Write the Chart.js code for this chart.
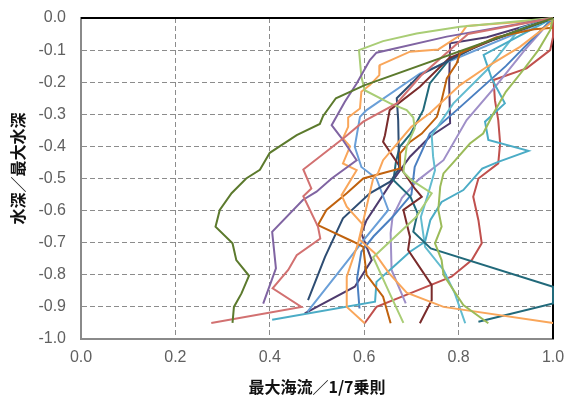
<!DOCTYPE html>
<html>
<head>
<meta charset="utf-8">
<script src="https://cdn.jsdelivr.net/npm/chart.js@4/dist/chart.umd.min.js"></script>
<style>
  html, body { margin: 0; padding: 0; background: #fff; }
  #wrap { width: 564px; height: 397px; }
</style>
</head>
<body>
<div id="wrap"><canvas id="c"></canvas></div>
<script>
// Velocity profiles: [current ratio (max / 1/7 power law), depth ratio (depth / max depth)]
const profile01 = [[1.0,0],[0.60,-0.21],[0.54,-0.25],[0.513,-0.305],[0.506,-0.33],[0.457,-0.365],[0.40,-0.42],[0.379,-0.473],[0.35,-0.50],[0.319,-0.546],[0.294,-0.598],[0.285,-0.65],[0.321,-0.702],[0.329,-0.754],[0.356,-0.803],[0.34,-0.858],[0.324,-0.90],[0.321,-0.95]];
const profile02 = [[1.0,0],[0.82,-0.05],[0.72,-0.18],[0.669,-0.266],[0.598,-0.323],[0.56,-0.37],[0.471,-0.472],[0.488,-0.531],[0.471,-0.555],[0.502,-0.65],[0.507,-0.687],[0.457,-0.739],[0.439,-0.785],[0.406,-0.842],[0.467,-0.90],[0.276,-0.95]];
const profile03 = [[1.0,0],[0.775,-0.058],[0.626,-0.108],[0.612,-0.131],[0.584,-0.204],[0.559,-0.261],[0.531,-0.334],[0.55,-0.37],[0.584,-0.443],[0.531,-0.50],[0.499,-0.541],[0.47,-0.567],[0.405,-0.666],[0.413,-0.78],[0.386,-0.89]];
const profile04 = [[1.0,0],[0.803,-0.027],[0.711,-0.048],[0.64,-0.072],[0.589,-0.10],[0.594,-0.183],[0.601,-0.225],[0.655,-0.266],[0.69,-0.287],[0.704,-0.31],[0.707,-0.344],[0.69,-0.40],[0.683,-0.48],[0.70,-0.505],[0.743,-0.546],[0.71,-0.62],[0.619,-0.745],[0.654,-0.858],[0.683,-0.95]];
const profile05 = [[1.0,0],[0.994,-0.038],[0.969,-0.10],[0.937,-0.162],[0.90,-0.23],[0.874,-0.297],[0.852,-0.36],[0.824,-0.391],[0.789,-0.45],[0.768,-0.484],[0.761,-0.526],[0.757,-0.598],[0.764,-0.65],[0.75,-0.702],[0.764,-0.754],[0.768,-0.80],[0.81,-0.894],[0.863,-0.951]];
const profile06 = [[1.0,-0.005],[0.817,-0.025],[0.803,-0.054],[0.757,-0.098],[0.697,-0.105],[0.633,-0.147],[0.632,-0.178],[0.612,-0.209],[0.594,-0.23],[0.591,-0.282],[0.566,-0.31],[0.566,-0.339],[0.555,-0.375],[0.57,-0.40],[0.555,-0.453],[0.584,-0.474],[0.552,-0.552],[0.563,-0.588],[0.598,-0.645],[0.59,-0.69],[0.622,-0.732],[0.652,-0.794],[0.69,-0.856],[0.768,-0.90],[1.0,-0.95]];
const profile07 = [[1.0,-0.01],[0.93,-0.09],[0.86,-0.152],[0.803,-0.209],[0.739,-0.297],[0.70,-0.339],[0.64,-0.443],[0.629,-0.484],[0.619,-0.50],[0.605,-0.588],[0.587,-0.702],[0.563,-0.806],[0.563,-0.90],[0.601,-0.951]];
const profile08 = [[1.0,-0.03],[0.96,-0.035],[0.88,-0.06],[0.803,-0.11],[0.796,-0.141],[0.775,-0.188],[0.764,-0.256],[0.754,-0.308],[0.722,-0.36],[0.697,-0.386],[0.676,-0.422],[0.676,-0.469],[0.598,-0.50],[0.563,-0.546],[0.52,-0.598],[0.502,-0.645],[0.577,-0.697],[0.598,-0.713],[0.605,-0.80],[0.64,-0.868],[0.656,-0.951]];
const profile09 = [[1.0,0],[0.85,-0.08],[0.718,-0.178],[0.669,-0.25],[0.672,-0.318],[0.674,-0.469],[0.655,-0.51],[0.612,-0.546],[0.555,-0.624],[0.517,-0.744],[0.481,-0.879]];
const profile10 = [[1.0,0],[0.87,-0.07],[0.78,-0.125],[0.718,-0.214],[0.654,-0.287],[0.644,-0.365],[0.64,-0.386],[0.676,-0.464],[0.707,-0.531],[0.722,-0.557],[0.683,-0.598],[0.697,-0.682],[0.693,-0.723],[0.743,-0.832],[0.743,-0.879],[0.718,-0.951]];
const profile11 = [[1.0,0],[0.85,-0.08],[0.78,-0.13],[0.739,-0.204],[0.725,-0.287],[0.698,-0.361],[0.675,-0.402],[0.667,-0.45],[0.662,-0.505],[0.698,-0.557],[0.713,-0.608],[0.704,-0.666],[0.741,-0.718],[1.0,-0.837],[1.0,-0.889],[0.842,-0.946]];
const profile12 = [[1.0,0],[0.853,-0.115],[0.87,-0.188],[0.898,-0.266],[0.856,-0.323],[0.863,-0.38],[0.948,-0.414],[0.884,-0.448],[0.85,-0.469],[0.81,-0.536],[0.764,-0.573],[0.74,-0.63],[0.729,-0.697],[0.697,-0.728],[0.662,-0.775],[0.626,-0.822],[0.623,-0.884],[0.405,-0.94]];
const profile13 = [[1.0,0],[0.93,-0.032],[0.86,-0.162],[0.789,-0.266],[0.743,-0.365],[0.746,-0.432],[0.75,-0.474],[0.735,-0.55],[0.72,-0.62],[0.729,-0.713],[0.768,-0.785],[0.792,-0.858],[0.814,-0.951]];
const profile14 = [[1.0,0],[0.718,-0.173],[0.605,-0.287],[0.591,-0.308],[0.58,-0.401],[0.594,-0.464],[0.626,-0.50],[0.651,-0.598],[0.60,-0.69],[0.566,-0.754],[0.48,-0.915]];
const profile15 = [[1.0,0],[0.90,-0.15],[0.796,-0.287],[0.739,-0.36],[0.707,-0.464],[0.70,-0.55],[0.66,-0.62],[0.62,-0.68],[0.594,-0.728],[0.585,-0.81],[0.59,-0.905]];
const profile16 = [[1.0,0],[0.86,-0.06],[0.782,-0.079],[0.78,-0.20],[0.782,-0.328],[0.739,-0.37],[0.697,-0.432],[0.654,-0.52],[0.605,-0.63],[0.594,-0.671],[0.616,-0.754],[0.58,-0.837],[0.474,-0.92]];
const profile17 = [[1.0,0],[0.94,-0.10],[0.88,-0.21],[0.817,-0.318],[0.768,-0.443],[0.714,-0.505],[0.68,-0.56],[0.66,-0.62],[0.656,-0.671],[0.658,-0.785],[0.688,-0.889]];
const profile18 = [[1.0,0],[1.0,-0.06],[0.994,-0.10],[0.944,-0.157],[0.874,-0.193],[0.877,-0.256],[0.884,-0.318],[0.888,-0.39],[0.884,-0.453],[0.842,-0.50],[0.831,-0.557],[0.842,-0.63],[0.849,-0.702],[0.828,-0.754],[0.785,-0.806],[0.697,-0.858],[0.626,-0.90],[0.601,-0.951]];

const profiles = [profile01, profile02, profile03, profile04, profile05, profile06, profile07, profile08, profile09,
                  profile10, profile11, profile12, profile13, profile14, profile15, profile16, profile17, profile18];

const lineColors = ['#5c7a2d', '#d27171', '#8064a2', '#a9cd75', '#9bbb59', '#f9a65a', '#f9a65a', '#c0620e', '#2e4d73',
                    '#7a2b2b', '#21697a', '#4bacc6', '#62bcd0', '#6a9fd8', '#4a7fc1', '#4e3b6e', '#9f8fc8', '#c0504d'];

const xTitle = '最大海流／1/7乗則';
const yTitle = '水深／最大水深';

const titleFont = { family: '"Noto Sans CJK JP", sans-serif', size: 16, weight: 'bold' };
const tickFont = { family: '"Liberation Sans", Arial, sans-serif', size: 16 };

// Black frame on the top and right edges of the plot area
const frameEdges = {
  id: 'frameEdges',
  beforeDatasetsDraw(chart) {
    const { ctx, chartArea: a } = chart;
    ctx.save();
    ctx.lineWidth = 2;
    ctx.strokeStyle = '#000';
    ctx.beginPath();
    ctx.moveTo(a.left, a.top);
    ctx.lineTo(a.right, a.top);
    ctx.lineTo(a.right, a.bottom);
    ctx.stroke();
    ctx.restore();
  }
};

// Vertical axis title, placed a little above the middle of the plot
const depthTitle = {
  id: 'depthTitle',
  afterDraw(chart) {
    const { ctx, chartArea: a } = chart;
    ctx.save();
    ctx.translate(a.left - 63, (a.top + a.bottom) / 2 - 10);
    ctx.rotate(-Math.PI / 2);
    ctx.font = `${titleFont.weight} ${titleFont.size}px ${titleFont.family}`;
    ctx.fillStyle = '#111';
    ctx.textAlign = 'center';
    ctx.textBaseline = 'middle';
    ctx.fillText(yTitle, 0, 0);
    ctx.restore();
  }
};

const fmt = v => (Math.round(v * 10) / 10).toFixed(1);

new Chart(document.getElementById('c'), {
  type: 'scatter',
  data: {
    datasets: profiles.map((p, i) => ({
      label: 'profile' + (i + 1),
      data: p.map(([x, y]) => ({ x, y })),
      showLine: true,
      borderColor: lineColors[i],
      backgroundColor: lineColors[i],
      borderWidth: 2,
      pointRadius: 0,
      pointHoverRadius: 0,
      tension: 0,
      fill: false,
      clip: 3
    }))
  },
  options: {
    responsive: true,
    maintainAspectRatio: false,
    animation: false,
    devicePixelRatio: 1,
    layout: { padding: { top: 18, right: 11, left: 0, bottom: 0 } },
    plugins: { legend: { display: false }, tooltip: { enabled: false } },
    scales: {
      x: {
        type: 'linear', min: 0, max: 1,
        afterFit: s => { s.height = 58; s.paddingLeft = 0; s.paddingRight = 0; },
        ticks: { stepSize: 0.2, color: '#606060', font: tickFont, padding: 9, callback: fmt, maxRotation: 0 },
        grid: { color: '#8c8c8c', lineWidth: 1, drawTicks: false },
        border: { display: true, color: '#8a8a8a', width: 2, dash: [5, 3] },
        title: { display: true, text: xTitle, color: '#111', font: titleFont, padding: { top: 0, bottom: 0 } }
      },
      y: {
        type: 'linear', min: -1, max: 0,
        afterFit: s => { s.width = 81; s.paddingTop = 0; s.paddingBottom = 0; },
        ticks: { stepSize: 0.1, color: '#606060', font: tickFont, padding: 15, callback: fmt },
        grid: { color: '#8c8c8c', lineWidth: 1, drawTicks: false },
        border: { display: true, color: '#8a8a8a', width: 2, dash: [5, 3] },
        title: { display: false }
      }
    }
  },
  plugins: [frameEdges, depthTitle]
});
</script>
</body>
</html>
